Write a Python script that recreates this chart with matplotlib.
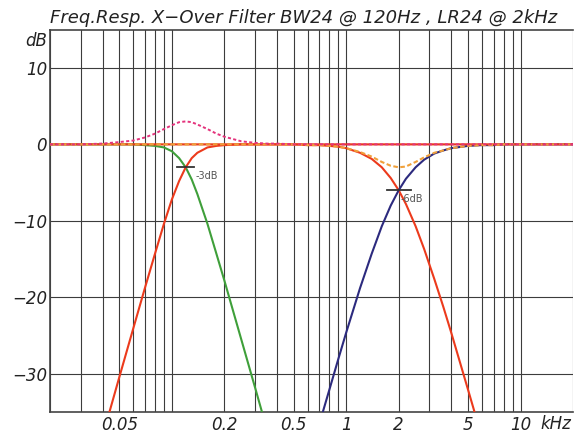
import numpy as np
import matplotlib
matplotlib.use("Agg")
import matplotlib.pyplot as plt
from matplotlib.ticker import LogLocator, NullFormatter

# frequency points in kHz, shared by all curves
freq = [0.02, 0.03, 0.04, 0.05, 0.06, 0.07, 0.08, 0.09, 0.1,
        0.11, 0.12, 0.13, 0.14, 0.16, 0.18, 0.2, 0.25, 0.3, 0.35, 0.4,
        0.5, 0.6, 0.7, 0.8, 0.9, 1.0, 1.2, 1.4, 1.6, 1.8, 2.0,
        2.2, 2.5, 2.8, 3.2, 3.6, 4.0, 5.0, 6.0, 7.0, 8.0,
        10.0, 12.0, 15.0, 20.0]

nan = np.nan

# BW24 low pass @ 120 Hz (green)
bw_low = [0.0, 0.0, 0.0, 0.0, 0.0, -0.1, -0.2, -0.4, -0.9,
          -1.8, -3.0, -4.6, -6.5, -10.4, -14.3, -17.8, -25.5, -31.8, -37.2, nan,
          nan, nan, nan, nan, nan, nan, nan, nan, nan, nan, nan,
          nan, nan, nan, nan, nan, nan, nan, nan, nan, nan,
          nan, nan, nan, nan]

# BW24 high pass @ 120 Hz (red)
bw_high = [nan, nan, -38.2, -30.4, -24.1, -18.8, -14.3, -10.4, -7.2,
           -4.8, -3.0, -1.8, -1.1, -0.4, -0.2, -0.1, 0.0, 0.0, 0.0, 0.0,
           0.0, 0.0, 0.0, 0.0, 0.0, 0.0, 0.0, 0.0, 0.0, 0.0, 0.0,
           0.0, 0.0, 0.0, 0.0, 0.0, 0.0, 0.0, 0.0, 0.0, 0.0,
           0.0, 0.0, 0.0, 0.0]

# BW24 sum (pink dotted)
bw_sum = [0.0, 0.0, 0.1, 0.3, 0.5, 0.9, 1.4, 2.0, 2.5,
          2.9, 3.0, 2.9, 2.6, 2.0, 1.4, 1.0, 0.4, 0.2, 0.1, 0.1,
          0.0, 0.0, 0.0, 0.0, 0.0, 0.0, 0.0, 0.0, 0.0, 0.0, 0.0,
          0.0, 0.0, 0.0, 0.0, 0.0, 0.0, 0.0, 0.0, 0.0, 0.0,
          0.0, 0.0, 0.0, 0.0]

# LR24 low pass @ 2 kHz (red)
lr_low = [0.0, 0.0, 0.0, 0.0, 0.0, 0.0, 0.0, 0.0, 0.0,
          0.0, 0.0, 0.0, 0.0, 0.0, 0.0, 0.0, 0.0, 0.0, 0.0, 0.0,
          0.0, -0.1, -0.1, -0.2, -0.3, -0.5, -1.1, -1.9, -3.0, -4.4, -6.0,
          -7.8, -10.7, -13.7, -17.6, -21.2, -24.6, -32.1, -38.3, nan, nan,
          nan, nan, nan, nan]

# LR24 high pass @ 2 kHz (navy)
lr_high = [nan, nan, nan, nan, nan, nan, nan, nan, nan,
           nan, nan, nan, nan, nan, nan, nan, nan, nan, nan, nan,
           nan, -41.9, -36.6, -32.1, -28.1, -24.6, -18.8, -14.3, -10.7, -8.0, -6.0,
           -4.5, -3.0, -2.0, -1.2, -0.8, -0.5, -0.2, -0.1, -0.1, 0.0,
           0.0, 0.0, 0.0, 0.0]

# LR24 power sum (orange dashed)
lr_sum = [0.0, 0.0, 0.0, 0.0, 0.0, 0.0, 0.0, 0.0, 0.0,
          0.0, 0.0, 0.0, 0.0, 0.0, 0.0, 0.0, 0.0, 0.0, 0.0, 0.0,
          0.0, -0.1, -0.1, -0.2, -0.3, -0.5, -1.0, -1.6, -2.3, -2.8, -3.0,
          -2.9, -2.3, -1.7, -1.1, -0.8, -0.5, -0.2, -0.1, -0.1, 0.0,
          0.0, 0.0, 0.0, 0.0]

xover_freq = [0.12, 2.0]
xover_db = [-3.0, -6.0]
xover_labels = ["-3dB", "-6dB"]

xtick_vals = [0.05, 0.2, 0.5, 1, 2, 5, 10]
xtick_labels = ["0.05", "0.2", "0.5", "1", "2", "5", "10"]
ytick_vals = [10, 0, -10, -20, -30]
ytick_labels = ["10", "0", "\u221210", "\u221220", "\u221230"]

title = "Freq.Resp. X\u2212Over Filter BW24 @ 120Hz , LR24 @ 2kHz"

fig = plt.figure(figsize=(5.75, 4.36), dpi=100)
ax = fig.add_axes([0.087, 0.055, 0.9096, 0.877])

ax.set_xscale("log")
ax.set_xlim(0.02, 20)
ax.set_ylim(-35, 15)

gridc = "#3c3c3c"
ax.set_xticks(xtick_vals)
ax.set_xticklabels(xtick_labels)
ax.xaxis.set_minor_locator(LogLocator(base=10, subs=np.arange(1, 10)))
ax.xaxis.set_minor_formatter(NullFormatter())
ax.set_yticks(ytick_vals)
ax.set_yticklabels(ytick_labels)
ax.grid(True, which="both", axis="x", color=gridc, linewidth=0.8)
ax.grid(True, which="major", axis="y", color=gridc, linewidth=0.8)
ax.tick_params(which="both", length=0)
ax.tick_params(axis="x", pad=3)
ax.tick_params(axis="y", pad=2)
for lab in ax.get_xticklabels() + ax.get_yticklabels():
    lab.set_fontstyle("italic")
    lab.set_fontsize(12)
    lab.set_color("#222222")

for side in ["left", "bottom", "top"]:
    ax.spines[side].set_color("#444444")
    ax.spines[side].set_linewidth(1.2)
ax.spines["right"].set_visible(False)

f = np.array(freq)
ax.plot(f, bw_low, color="#3f9f3a", lw=1.5, zorder=3)
ax.plot(f, lr_low, color="#ec3a1c", lw=1.5, zorder=3)
ax.plot(f, lr_high, color="#2c2a7e", lw=1.5, zorder=3)
ax.plot(f, bw_high, color="#ec3a1c", lw=1.5, zorder=3)
ax.plot(f, lr_sum, color="#f0a03a", lw=1.5, ls=(0, (2.2, 1.2)), zorder=4)
ax.plot(f, bw_sum, color="#e4337c", lw=1.4, ls=(0, (1.6, 1.2)), zorder=5)

# crossover markers
halfw = [0.05, 0.068]
offs = [(7, -6), (1, -6.5)]
for xf, yd, lab, hw, off in zip(xover_freq, xover_db, xover_labels, halfw, offs):
    ax.plot([xf * 10 ** -hw, xf * 10 ** hw], [yd, yd], color="#333333", lw=1.3, zorder=6)
    ax.annotate(lab, (xf, yd), xytext=off, textcoords="offset points",
                fontsize=7, color="#555555", ha="left", va="center", zorder=6)

ax.annotate("kHz", (10, 0), xycoords=("data", "axes fraction"), xytext=(14.5, -8.6),
            textcoords="offset points", fontsize=12, fontstyle="italic",
            color="#222222", ha="left", va="center")
ax.annotate("dB", (0, 1), xycoords="axes fraction", xytext=(-2, -8),
            textcoords="offset points", fontsize=12, fontstyle="italic",
            color="#222222", ha="right", va="center")

fig.text(0.087, 0.947, title, fontsize=13, fontstyle="italic",
         color="#222222", ha="left", va="baseline")

fig.savefig("out.png", dpi=100)
